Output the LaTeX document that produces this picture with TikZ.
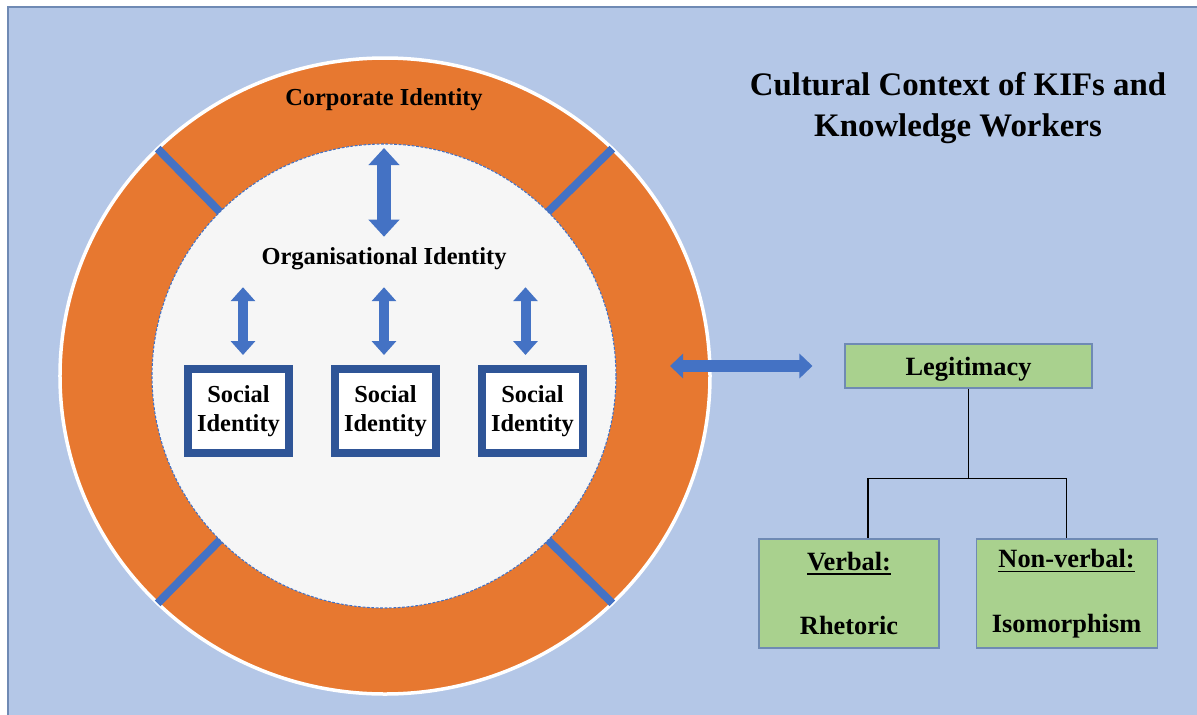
\documentclass[tikz,border=0pt]{standalone}
\usepackage{fontspec}
\setmainfont{Liberation Serif}
\usepackage{tikz}
\usetikzlibrary{arrows.meta,positioning,shapes.geometric}

\definecolor{bgblue}{HTML}{B4C7E7}
\definecolor{frameblue}{HTML}{6F8AB4}
\definecolor{ringorange}{HTML}{E77830}
\definecolor{accblue}{HTML}{4472C4}
\definecolor{darkblue}{HTML}{2F5597}
\definecolor{leafgreen}{HTML}{A9D18E}
\definecolor{innergray}{HTML}{F6F6F6}

% heading with a heavy underline
\newsavebox{\headbox}
\newcommand{\boxhead}[1]{\sbox{\headbox}{#1}\rlap{\rule[-2.8pt]{\wd\headbox}{1.1pt}}\usebox{\headbox}}

\begin{document}
\begin{tikzpicture}[
    idfont/.style={font=\fontsize{13.9}{16.4}\selectfont\bfseries},
    boxfont/.style={font=\fontsize{15}{18}\selectfont\bfseries},
    socialbox/.style={draw=darkblue, line width=0.16cm, fill=white, align=center,
                      idfont, inner sep=0pt, minimum width=2.02cm, minimum height=1.68cm},
    greenbox/.style={draw=frameblue, line width=0.6pt, fill=leafgreen, align=center,
                     boxfont, inner sep=0pt},
    updown/.style={accblue, line width=0.2cm,
                   {Triangle[width=0.48cm,length=0.28cm]}-{Triangle[width=0.48cm,length=0.28cm]}},
    bigupdown/.style={accblue, line width=0.28cm,
                      {Triangle[width=0.6cm,length=0.34cm]}-{Triangle[width=0.6cm,length=0.34cm]}},
    sidearrow/.style={accblue, line width=0.24cm,
                      {Triangle[width=0.48cm,length=0.26cm]}-{Triangle[width=0.48cm,length=0.26cm]}},
    divider/.style={accblue, line width=0.16cm},
    treeline/.style={black, line width=0.6pt},
  ]

  \useasboundingbox (-7.68,7.52) rectangle (16.26,-6.76);
  \draw[frameblue, line width=0.6pt, fill=bgblue] (-7.52,7.38) rectangle (16.4,-6.9);

  % === Identity rings ===
  \node[ellipse, fill=ringorange, draw=white, line width=0.07cm, outer sep=0pt,
        minimum width=13cm, minimum height=12.72cm] (ring) at (0.02,0) {};
  \node[circle, fill=innergray, draw=accblue, line width=0.6pt,
        dash pattern=on 1.6pt off 0.9pt, outer sep=0pt, minimum size=9.28cm] (orgcircle) at (0,0) {};
  \foreach \a in {45,135,225,315}
    \draw[divider] (orgcircle.\a) -- (ring.\a);

  \node[idfont, anchor=base] (corp) at (0,5.42) {Corporate Identity};
  \node[idfont, anchor=base, inner sep=0pt] (org) at (0,2.24) {Organisational Identity};

  % Social identities
  \node[socialbox] (sid1) at (-2.91,-0.7) {Social\\Identity};
  \node[socialbox, right=0.76cm of sid1] (sid2) {Social\\Identity};
  \node[socialbox, right=0.76cm of sid2] (sid3) {Social\\Identity};

  % Arrows
  \draw[bigupdown, shorten <=0.2cm, shorten >=0.08cm] (org.north) -- (orgcircle.north);
  \foreach \s/\dx in {sid1/0.09, sid2/-0.03, sid3/-0.14}
    \draw[updown, shorten <=0.2cm, shorten >=0.35cm]
      ([xshift=\dx cm]\s.north) -- ([xshift=\dx cm]\s.north |- org.south);

  % === Title ===
  \node[font=\fontsize{18.7}{23.2}\selectfont\bfseries, align=center] (title) at (11.48,5.36)
    {Cultural Context of KIFs and\\Knowledge Workers};

  % === Legitimacy tree ===
  \node[greenbox, minimum width=4.94cm, minimum height=0.88cm,
        text height=0.36cm, text depth=0pt] (legit) at (11.69,0.2) {Legitimacy};
  \node[greenbox, minimum width=3.6cm, minimum height=2.18cm] (verbal) at (9.3,-4.35)
    {\boxhead{Verbal:}\\[18.8pt]Rhetoric};
  \node[greenbox, minimum width=3.62cm, minimum height=2.18cm, right=0.72cm of verbal] (nonverbal)
    {\boxhead{Non-verbal:}\\[18.8pt]Isomorphism};

  \coordinate (ringlink) at (5.72,0.2);
  \draw[sidearrow, shorten >=0.64cm] (ringlink) -- (legit.west);

  \draw[treeline] (legit.south) -- ++(0,-1.8) coordinate (fork);
  \draw[treeline] (fork) -| ([xshift=0.38cm]verbal.north);
  \draw[treeline] (fork) -| (nonverbal.north);

\end{tikzpicture}
\end{document}
